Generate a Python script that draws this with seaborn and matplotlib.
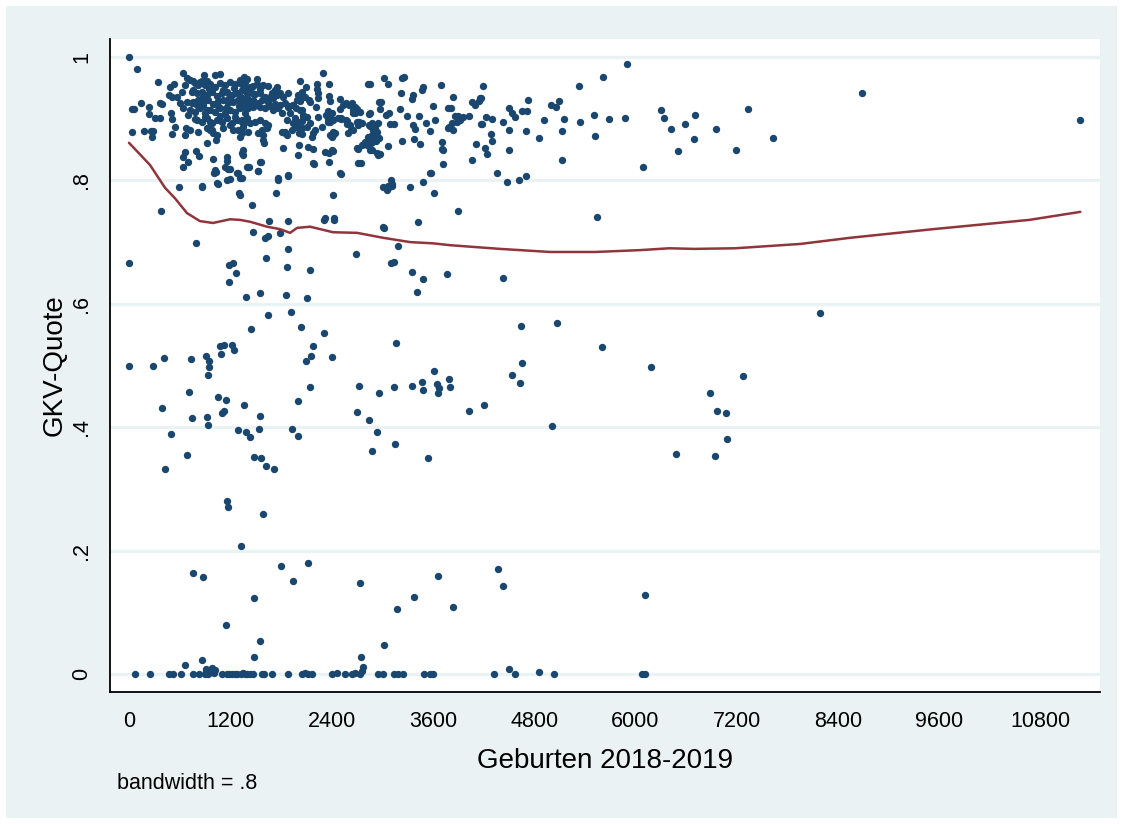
import pandas as pd
import seaborn as sns
import matplotlib.pyplot as plt
from matplotlib.patches import Rectangle

# lowess GKV-Quote vs. Geburten

# upper left edge of the cloud
top_pts = [
    (0, 1.0), (95, 0.98), (36, 0.916), (59, 0.916), (36, 0.878), (142, 0.925),
    (237, 0.919), (237, 0.908), (308, 0.901), (367, 0.901), (178, 0.880),
    (261, 0.880), (284, 0.880), (273, 0.870), (367, 0.925), (391, 0.924),
    (344, 0.959), (486, 0.951), (533, 0.956), (474, 0.938), (510, 0.935),
    (569, 0.935), (628, 0.943), (640, 0.974), (687, 0.966), (664, 0.955),
    (498, 0.909), (510, 0.899), (545, 0.887), (510, 0.875), (604, 0.925),
    (640, 0.917), (687, 0.927), (747, 0.925), (699, 0.906), (675, 0.885),
    (723, 0.882), (818, 0.878), (664, 0.874), (758, 0.961), (818, 0.955),
    (758, 0.946), (865, 0.961), (889, 0.971), (924, 0.961), (782, 0.899),
    (1019, 0.971), (1078, 0.972), (806, 0.922), (877, 0.922), (924, 0.914),
    (901, 0.903), (960, 0.895), (936, 0.885), (960, 0.882), (995, 0.877),
    (1043, 0.874), (924, 0.861), (1031, 0.865),
]

# the dense core around 600-1500 births
core_pts = [
    (723, 0.963), (782, 0.958), (841, 0.960), (901, 0.955), (960, 0.957),
    (1019, 0.951), (1078, 0.958), (1138, 0.954), (1197, 0.960), (1256, 0.957),
    (1315, 0.963), (1375, 0.960), (747, 0.943), (806, 0.941), (865, 0.944),
    (924, 0.938), (984, 0.943), (1043, 0.937), (1102, 0.942), (1161, 0.944),
    (1220, 0.938), (1280, 0.941), (1339, 0.946), (1398, 0.942), (758, 0.927),
    (818, 0.930), (877, 0.925), (936, 0.931), (995, 0.924), (1055, 0.928),
    (1114, 0.930), (1173, 0.925), (1232, 0.927), (1292, 0.931), (1351, 0.925),
    (1410, 0.927), (723, 0.914), (782, 0.911), (841, 0.917), (901, 0.909),
    (960, 0.914), (1019, 0.911), (1078, 0.917), (1138, 0.909), (1197, 0.914),
    (1256, 0.911), (1315, 0.917), (1375, 0.909), (806, 0.898), (865, 0.895),
    (924, 0.901), (984, 0.893), (1043, 0.898), (1102, 0.895), (1161, 0.901),
    (1220, 0.893), (1280, 0.898), (1339, 0.895), (1398, 0.901), (924, 0.885),
    (984, 0.882), (1114, 0.885), (1232, 0.882), (1351, 0.887), (1410, 0.878),
    (1000, 0.949), (1110, 0.947), (1240, 0.950), (1180, 0.933), (1060, 0.920),
    (1300, 0.920), (1150, 0.918), (1250, 0.903), (1330, 0.935), (1200, 0.889),
    (1080, 0.905), (950, 0.948), (870, 0.934), (1290, 0.882), (1380, 0.952),
]

# 1300-3000 births, upper band
mid_band_pts = [
    (1363, 0.968), (1398, 0.965), (1517, 0.965), (1517, 0.956), (1588, 0.955),
    (1647, 0.953), (1754, 0.951), (1730, 0.946), (1434, 0.951), (1469, 0.953),
    (1552, 0.948), (1398, 0.943), (1458, 0.942), (1493, 0.940), (1552, 0.942),
    (1612, 0.935), (1671, 0.935), (1706, 0.934), (1398, 0.934), (1339, 0.930),
    (1351, 0.925), (1434, 0.927), (1469, 0.930), (1529, 0.925), (1576, 0.930),
    (1647, 0.927), (1375, 0.919), (1410, 0.917), (1469, 0.919), (1517, 0.922),
    (1552, 0.919), (1612, 0.917), (1671, 0.921), (1730, 0.924), (1789, 0.922),
    (1849, 0.925), (1884, 0.919), (1943, 0.922), (1990, 0.930), (2003, 0.938),
    (2050, 0.943), (2086, 0.935), (2145, 0.927), (2026, 0.914), (2062, 0.906),
    (1967, 0.901), (1908, 0.909), (1872, 0.898), (1339, 0.898), (1375, 0.895),
    (1434, 0.893), (1493, 0.895), (1552, 0.898), (1612, 0.893), (1635, 0.885),
    (1576, 0.882), (1529, 0.877), (1588, 0.874), (1647, 0.890), (1943, 0.893),
    (1990, 0.895), (2062, 0.901), (2109, 0.903), (2050, 0.885), (2145, 0.893),
    (2204, 0.882), (2180, 0.877), (1339, 0.877), (1315, 0.870), (1813, 0.878),
    (1849, 0.878), (1872, 0.874), (2003, 0.887), (2334, 0.906), (2382, 0.906),
    (2406, 0.909), (2417, 0.898), (2358, 0.895), (2500, 0.916), (2536, 0.922),
    (2512, 0.901), (2583, 0.896), (2619, 0.890), (2654, 0.882), (2595, 0.877),
    (2571, 0.925), (2642, 0.925), (2678, 0.919), (2702, 0.916), (2654, 0.909),
    (2725, 0.895), (2761, 0.893), (2844, 0.908), (2880, 0.893), (2844, 0.890),
    (2915, 0.885), (2939, 0.878), (2880, 0.874), (2832, 0.870), (2797, 0.862),
    (2761, 0.857), (2714, 0.851), (2962, 0.927), (2417, 0.878), (2441, 0.877),
    (2382, 0.874), (1588, 0.865), (1600, 0.861), (1351, 0.849), (1339, 0.844),
    (1825, 0.853), (2003, 0.841), (2121, 0.854), (2180, 0.851), (2323, 0.846),
    (2406, 0.849), (2180, 0.828), (2370, 0.830), (2500, 0.812), (2714, 0.828),
    (1410, 0.822), (1552, 0.830), (1529, 0.815), (1766, 0.804), (1884, 0.807),
    (2856, 0.849), (1315, 0.958), (1351, 0.955), (1694, 0.942), (1754, 0.938),
    (1789, 0.942), (1825, 0.935), (1884, 0.942), (1706, 0.914), (1766, 0.917),
    (1813, 0.909), (2299, 0.974), (2026, 0.961), (2228, 0.956), (2228, 0.948),
    (2240, 0.942), (2370, 0.956), (2832, 0.956), (2240, 0.934), (2370, 0.937),
    (2382, 0.929), (2500, 0.932), (2607, 0.922), (2654, 0.914), (2690, 0.911),
    (2702, 0.895), (2014, 0.938), (2097, 0.951), (2133, 0.930), (2026, 0.929),
    (2050, 0.914), (1943, 0.922), (1979, 0.917), (1896, 0.921), (2216, 0.919),
    (2358, 0.912), (2358, 0.899), (2382, 0.895), (2477, 0.901), (2512, 0.899),
    (2417, 0.874), (2406, 0.870), (2583, 0.891), (2631, 0.882), (2571, 0.898),
    (2714, 0.890), (2737, 0.911), (2678, 0.909), (2050, 0.896), (1990, 0.895),
    (2109, 0.887), (1967, 0.887), (1931, 0.882), (1849, 0.877), (2014, 0.877),
    (2050, 0.875), (2168, 0.870), (2014, 0.857), (2287, 0.887), (2240, 0.903),
]

# 2850-4500 births
right_band_pts = [
    (3022, 0.966), (3069, 0.956), (3235, 0.966), (3259, 0.968), (3223, 0.942),
    (3365, 0.938), (3353, 0.932), (3484, 0.951), (3472, 0.946), (3697, 0.955),
    (4195, 0.953), (2856, 0.956), (2986, 0.927), (2974, 0.916), (2856, 0.909),
    (3045, 0.906), (3081, 0.909), (3211, 0.916), (3294, 0.904), (3436, 0.904),
    (3602, 0.921), (3780, 0.917), (3816, 0.917), (3839, 0.935), (4065, 0.927),
    (4100, 0.922), (4159, 0.934), (2951, 0.893), (3093, 0.891), (3140, 0.891),
    (2856, 0.888), (2891, 0.882), (2915, 0.877), (2939, 0.870), (2915, 0.865),
    (2880, 0.862), (3365, 0.890), (3389, 0.883), (3519, 0.893), (3626, 0.898),
    (3567, 0.880), (3780, 0.885), (3827, 0.893), (3863, 0.904), (3899, 0.904),
    (3922, 0.898), (3958, 0.903), (3887, 0.895), (3839, 0.882), (4029, 0.904),
    (4171, 0.891), (4230, 0.903), (4302, 0.900), (4112, 0.859), (4219, 0.853),
    (4242, 0.843), (4290, 0.875), (4302, 0.864), (3069, 0.856), (3235, 0.864),
    (3377, 0.867), (3448, 0.859), (3709, 0.862), (3709, 0.851), (3721, 0.827),
    (4065, 0.833), (4361, 0.812), (2856, 0.870), (2880, 0.849), (2939, 0.844),
    (2951, 0.841), (3330, 0.789), (3484, 0.797), (3579, 0.812), (3105, 0.801),
    (3069, 0.791), (3010, 0.789), (3117, 0.791), (4479, 0.797), (3614, 0.780),
    (3899, 0.750), (3010, 0.724), (3721, 0.849), (3792, 0.887), (4147, 0.929),
    (4171, 0.934),
]

# above 4170 births
far_right_pts = [
    (4183, 0.891), (4622, 0.801), (4704, 0.807), (4503, 0.917), (4539, 0.909),
    (4574, 0.903), (4503, 0.882), (4503, 0.849), (4432, 0.895), (4657, 0.912),
    (4716, 0.912), (4728, 0.930), (4704, 0.880), (4858, 0.869), (4918, 0.898),
    (5001, 0.922), (5060, 0.919), (5096, 0.929), (5131, 0.880), (5155, 0.899),
    (5131, 0.833), (5333, 0.953), (5344, 0.895), (5510, 0.906), (5522, 0.872),
    (5617, 0.968), (5688, 0.899), (5878, 0.901), (5901, 0.989), (6091, 0.822),
    (6304, 0.914), (6340, 0.901), (6423, 0.883), (6506, 0.848), (6589, 0.891),
    (6695, 0.867), (6707, 0.906), (6956, 0.883), (7193, 0.849), (7335, 0.916),
    (7631, 0.869), (8686, 0.942), (5546, 0.741), (11270, 0.898),
]

# just under the cloud, 0.72-0.86
lower_cloud_pts = [
    (664, 0.846), (640, 0.838), (699, 0.830), (640, 0.822), (592, 0.789),
    (379, 0.750), (794, 0.848), (830, 0.840), (865, 0.791), (995, 0.835),
    (1019, 0.817), (1007, 0.812), (1055, 0.794), (1161, 0.838), (1161, 0.831),
    (1197, 0.818), (1161, 0.801), (1292, 0.812), (1339, 0.804), (1303, 0.780),
    (1315, 0.776), (1422, 0.822), (1458, 0.760), (1529, 0.815), (1564, 0.830),
    (1351, 0.841), (1742, 0.780), (1766, 0.801), (1884, 0.809), (2192, 0.827),
    (2323, 0.739), (2417, 0.776), (2512, 0.810), (2429, 0.739), (2370, 0.844),
    (2417, 0.848), (2702, 0.853), (2749, 0.828), (2820, 0.857), (2867, 0.861),
    (2915, 0.882), (2891, 0.869), (2927, 0.864), (2962, 0.869), (2974, 0.843),
    (3081, 0.789), (3117, 0.794), (3057, 0.784), (3567, 0.812),
    (1031, 0.814), (1043, 0.796), (1138, 0.822), (1173, 0.818), (1197, 0.802),
    (1315, 0.804), (1398, 0.822), (1280, 0.812), (865, 0.789),
]

# 0.3-0.75
middle_pts = [
    (0, 0.666), (794, 0.699), (1470, 0.716), (1612, 0.707), (1647, 0.710),
    (1790, 0.715), (1659, 0.734), (1884, 0.734), (2311, 0.736), (2429, 0.736),
    (3022, 0.723), (3424, 0.733), (1884, 0.689), (1623, 0.674), (1185, 0.663),
    (1232, 0.666), (1268, 0.650), (1185, 0.635), (1872, 0.660), (2145, 0.655),
    (1386, 0.611), (1552, 0.618), (1860, 0.614), (2109, 0.610), (2690, 0.681),
    (3188, 0.694), (3105, 0.666), (3140, 0.668), (3353, 0.652), (3484, 0.640),
    (3413, 0.619), (3768, 0.648), (1647, 0.582), (1920, 0.587), (1446, 0.559),
    (2038, 0.562), (2311, 0.553), (1078, 0.532), (1126, 0.533), (1220, 0.533),
    (1244, 0.525), (1090, 0.519), (912, 0.515), (948, 0.507), (948, 0.498),
    (936, 0.485), (0, 0.499), (284, 0.499), (415, 0.512), (735, 0.511),
    (711, 0.457), (391, 0.431), (747, 0.415), (498, 0.389), (924, 0.417),
    (936, 0.404), (1055, 0.449), (1149, 0.444), (1102, 0.423), (1126, 0.426),
    (1363, 0.436), (1552, 0.418), (1540, 0.397), (1292, 0.395), (1386, 0.392),
    (1434, 0.384), (1931, 0.397), (2003, 0.386), (2003, 0.442), (2145, 0.465),
    (2097, 0.507), (2157, 0.515), (2180, 0.532), (2406, 0.514), (3164, 0.536),
    (2725, 0.467), (2962, 0.455), (3140, 0.465), (3353, 0.467), (3472, 0.473),
    (3484, 0.460), (3614, 0.491), (3650, 0.470), (3673, 0.464), (3661, 0.455),
    (3792, 0.478), (3804, 0.465), (2702, 0.425), (2844, 0.412), (2939, 0.393),
    (2880, 0.361), (3152, 0.373), (3543, 0.350), (4029, 0.426), (4207, 0.436),
    (687, 0.355), (1481, 0.352), (1564, 0.350), (1623, 0.337), (1718, 0.332),
    (427, 0.332), (4432, 0.642), (4645, 0.564), (5072, 0.569), (4657, 0.504),
    (4539, 0.485), (4633, 0.472), (5013, 0.402), (5605, 0.530), (6186, 0.498),
    (6885, 0.455), (6968, 0.426), (7074, 0.423), (7276, 0.483), (7086, 0.381),
    (6482, 0.357), (6944, 0.353), (8188, 0.585),
]

# 0-0.3
low_pts = [
    (1161, 0.281), (1173, 0.271), (1588, 0.259), (1327, 0.207), (758, 0.163),
    (877, 0.157), (1801, 0.175), (2121, 0.180), (1943, 0.150), (1481, 0.123),
    (2737, 0.148), (3661, 0.159), (3377, 0.125), (3176, 0.105), (3839, 0.109),
    (4373, 0.170), (4432, 0.143), (6115, 0.128), (1149, 0.079), (1552, 0.053),
    (1481, 0.028), (3022, 0.047), (2749, 0.028), (2773, 0.011), (2761, 0.005),
    (865, 0.023), (664, 0.015), (912, 0.008), (984, 0.010), (912, 0.005),
    (960, 0.003), (1020, 0.006), (1007, 0.002), (1351, 0.002), (2086, 0.002),
    (2465, 0.002), (2678, 0.002), (4503, 0.008), (4858, 0.003),
]

zero_x = [71, 249, 474, 521, 616, 758, 830, 901, 936, 1102, 1161, 1190, 1220,
          1256, 1280, 1330, 1370, 1398, 1434, 1469, 1576, 1600, 1695, 1884,
          2050, 2121, 2168, 2406, 2560, 2642, 2737, 2951, 3010, 3140, 3188,
          3247, 3496, 3567, 3602, 4325, 4574, 5036, 6079, 6115]

# lowess smoother (bandwidth .8)
lowess_x = [0, 249, 427, 545, 687, 782, 841, 995, 1197, 1315, 1434, 1635, 1789,
            1908, 1991, 2145, 2417, 2702, 3010, 3330, 3602, 3804, 4396, 4989,
            5522, 6055, 6399, 6695, 7181, 7951, 8544, 9527, 10665, 11270]
lowess_y = [0.861, 0.825, 0.788, 0.771, 0.747, 0.739, 0.734, 0.731, 0.737, 0.736,
            0.733, 0.725, 0.721, 0.715, 0.723, 0.725, 0.716, 0.715, 0.707, 0.700,
            0.698, 0.695, 0.689, 0.684, 0.684, 0.687, 0.690, 0.689, 0.690, 0.697,
            0.707, 0.721, 0.736, 0.749]

x_ticks = list(range(0, 10801, 1200))
y_ticks = [0, 0.2, 0.4, 0.6, 0.8, 1.0]
y_tick_labels = ['0', '.2', '.4', '.6', '.8', '1']

pts = (top_pts + core_pts + mid_band_pts + right_band_pts + far_right_pts
       + lower_cloud_pts + middle_pts + low_pts + [(x, 0.0) for x in zero_x])
df = pd.DataFrame(pts, columns=['geburten', 'gkv'])
df_low = pd.DataFrame({'geburten': lowess_x, 'gkv': lowess_y})

sns.set_theme(style='white')
plt.rcParams['font.family'] = ['Liberation Sans', 'DejaVu Sans']

bg = '#eaf2f3'
navy = '#1a476f'
maroon = '#90353b'

fig = plt.figure(figsize=(11.23, 8.24), dpi=100, facecolor='white')
fig.patches.append(Rectangle((6 / 1123, 6 / 824), 1 - 12 / 1123, 1 - 12 / 824,
                             transform=fig.transFigure, facecolor=bg,
                             edgecolor='none', zorder=-5))
ax = fig.add_axes([110 / 1123, 132 / 824, 990 / 1123, 653 / 824])
ax.set_facecolor('white')

sns.scatterplot(data=df, x='geburten', y='gkv', color=navy, s=28,
                linewidth=0, ax=ax, zorder=3)
sns.lineplot(data=df_low, x='geburten', y='gkv', color=maroon, lw=1.8,
             sort=False, estimator=None, ax=ax, zorder=4)

ax.set_xlim(-225, 11503)
ax.set_ylim(-0.0292, 1.0292)
ax.set_xticks(x_ticks)
ax.set_yticks(y_ticks)
ax.set_yticklabels(y_tick_labels, rotation=90, va='center')
ax.yaxis.grid(True, color=bg, lw=2.4, zorder=0)
ax.xaxis.grid(False)
ax.set_axisbelow(True)

for side in ['top', 'right']:
    ax.spines[side].set_visible(False)
for side in ['left', 'bottom']:
    ax.spines[side].set_color('black')
    ax.spines[side].set_linewidth(1.3)

ax.tick_params(axis='both', length=8, width=1, color='black',
               labelsize=15.5, labelcolor='black')
ax.tick_params(axis='x', pad=6)
ax.tick_params(axis='y', pad=5)

ax.set_xlabel('Geburten 2018-2019', fontsize=20, color='black')
ax.set_ylabel('GKV-Quote', fontsize=20, color='black')
ax.xaxis.set_label_coords(0.5, -0.086)
ax.yaxis.set_label_coords(-0.043, 0.5)

fig.text(117 / 1123, 35 / 824, 'bandwidth = .8', fontsize=15.5,
         color='black', ha='left', va='baseline')

fig.savefig('out.png', dpi=100, facecolor=fig.get_facecolor())
